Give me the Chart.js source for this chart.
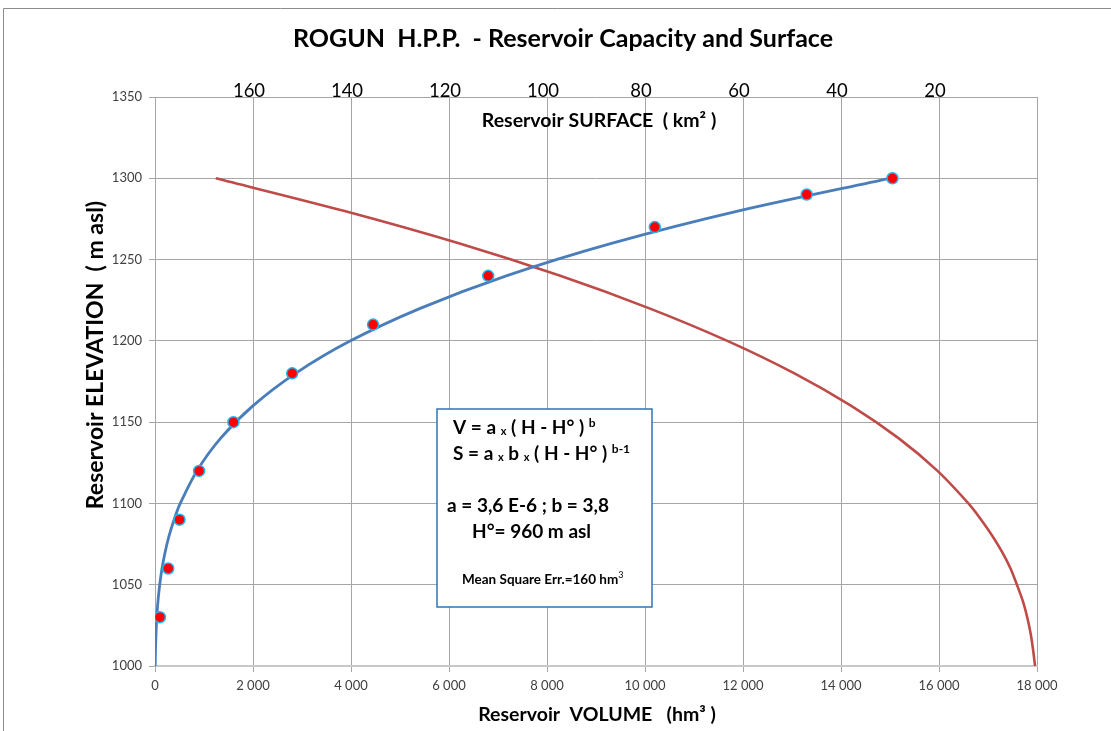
<!DOCTYPE html>
<html>
<head>
<meta charset="utf-8">
<title>ROGUN H.P.P. - Reservoir Capacity and Surface</title>
<script src="https://cdn.jsdelivr.net/npm/chart.js@4.4.1/dist/chart.umd.min.js"></script>
<style>
  html, body { margin: 0; padding: 0; background: #fff; }
  #wrap { width: 1111px; height: 731px; position: relative; }
</style>
</head>
<body>
<div id="wrap"><canvas id="rogunChart" width="1111" height="731"></canvas></div>
<script>
// elevations along the fitted curves (m asl)
const fitElevation = [1000, 1010, 1020, 1030, 1040, 1050, 1060, 1070, 1080, 1090, 1100, 1120, 1140, 1160, 1180, 1200, 1220, 1240, 1260, 1280, 1300];
// fitted reservoir volume (hm3)
const fitVolume = [4, 10, 21, 37, 61, 96, 143, 206, 287, 389, 515, 855, 1337, 1997, 2868, 3989, 5412, 7168, 9315, 11913, 14994];
// fitted reservoir surface (km2) (top axis)
const fitSurface = [0.4, 0.8, 1.3, 2.0, 2.9, 4.1, 5.4, 7.1, 9.1, 11.4, 14.0, 20.3, 28.2, 37.9, 49.5, 63.2, 79.1, 97.3, 118.0, 141.5, 167.6];

// measured points
const measuredVolume = [100, 270, 500, 900, 1600, 2800, 4450, 6800, 10200, 13300, 15050];
const measuredElevation = [1030, 1060, 1090, 1120, 1150, 1180, 1210, 1240, 1270, 1290, 1300];

// tick labels
const volumeTicks = [0, 2000, 4000, 6000, 8000, 10000, 12000, 14000, 16000, 18000];
const surfaceTicks = [20, 40, 60, 80, 100, 120, 140, 160];
const elevationTicks = [1000, 1050, 1100, 1150, 1200, 1250, 1300, 1350];

const FONT = "Lato, 'Open Sans', sans-serif";
const GRID = '#a6a6a6';

function fmtThousands(v) {
    return String(v).replace(/\B(?=(\d{3})+(?!\d))/g, ' ');
}

// draws a line made of pieces with different size / vertical shift
function drawRich(ctx, parts, x, y) {
    let cx = x;
    parts.forEach(p => {
        ctx.font = (p.bold === false ? '' : 'bold ') + p.size + 'px ' + FONT;
        ctx.fillText(p.t, cx, y + (p.dy || 0));
        cx += ctx.measureText(p.t).width;
    });
}

const decorations = {
    id: 'decorations',
    afterDatasetsDraw(chart) {
        const ctx = chart.ctx;
        ctx.save();

        // frame of the picture
        ctx.strokeStyle = '#8c8c8c';
        ctx.lineWidth = 1;
        ctx.beginPath();
        ctx.moveTo(3.5, 731);
        ctx.lineTo(3.5, 8.5);
        ctx.lineTo(1111, 8.5);
        ctx.stroke();

        ctx.fillStyle = '#000';
        ctx.textAlign = 'center';
        ctx.textBaseline = 'alphabetic';

        // main title
        ctx.font = 'bold 25px ' + FONT;
        ctx.fillText('ROGUN  H.P.P.  - Reservoir Capacity and Surface', 563, 47);

        // axis titles
        ctx.font = 'bold 19.5px ' + FONT;
        ctx.fillText('Reservoir  VOLUME   (hm\u00b3 )', 597, 721);
        ctx.fillText('Reservoir SURFACE  ( km\u00b2 )', 599, 127);

        ctx.save();
        ctx.translate(103, 355);
        ctx.rotate(-Math.PI / 2);
        ctx.font = 'bold 23px ' + FONT;
        ctx.fillText('Reservoir ELEVATION  ( m asl)', 0, 0);
        ctx.restore();

        // formula box
        ctx.fillStyle = '#fff';
        ctx.fillRect(437, 409, 215, 198);
        ctx.strokeStyle = '#2e75b6';
        ctx.lineWidth = 1.5;
        ctx.strokeRect(437, 409, 215, 198);

        ctx.fillStyle = '#000';
        ctx.textAlign = 'left';
        drawRich(ctx, [
            { t: 'V = a ', size: 19 },
            { t: 'x', size: 11, dy: 1 },
            { t: ' ( H - H\u00b0 ) ', size: 19 },
            { t: 'b', size: 12, dy: -7 }
        ], 453, 434);
        drawRich(ctx, [
            { t: 'S = a ', size: 19 },
            { t: 'x', size: 11, dy: 1 },
            { t: ' b ', size: 19 },
            { t: 'x', size: 11, dy: 1 },
            { t: ' ( H - H\u00b0 ) ', size: 19 },
            { t: 'b-1', size: 12, dy: -7 }
        ], 453, 460);
        drawRich(ctx, [{ t: 'a = 3,6 E-6 ; b = 3,8', size: 19 }], 447, 512);
        drawRich(ctx, [{ t: 'H\u00b0= 960 m asl', size: 19 }], 472, 538);
        drawRich(ctx, [
            { t: 'Mean Square Err.=160 hm', size: 13.5 },
            { t: '3', size: 9, dy: -6, bold: false }
        ], 462, 584);

        ctx.restore();
    }
};

const canvas = document.getElementById('rogunChart');

new Chart(canvas, {
    type: 'scatter',
    data: {
        datasets: [
            {
                label: 'Volume (fit)',
                data: fitElevation.map((h, i) => ({ x: fitVolume[i], y: h })),
                xAxisID: 'x',
                yAxisID: 'y',
                showLine: true,
                borderColor: '#4a7ebb',
                borderWidth: 2.8,
                pointRadius: 0,
                tension: 0.3,
                order: 2
            },
            {
                label: 'Surface (fit)',
                data: fitElevation.map((h, i) => ({ x: fitSurface[i], y: h })),
                xAxisID: 'x2',
                yAxisID: 'y',
                showLine: true,
                borderColor: '#be4b48',
                borderWidth: 2.6,
                pointRadius: 0,
                tension: 0.3,
                order: 3
            },
            {
                label: 'Measured',
                data: measuredVolume.map((v, i) => ({ x: v, y: measuredElevation[i] })),
                xAxisID: 'x',
                yAxisID: 'y',
                showLine: false,
                pointRadius: 5.5,
                pointBackgroundColor: '#ff0000',
                pointBorderColor: '#1fb5f0',
                pointBorderWidth: 1.5,
                order: 1
            }
        ]
    },
    options: {
        responsive: false,
        maintainAspectRatio: false,
        animation: false,
        devicePixelRatio: 1,
        layout: { padding: { top: 0, left: 0, right: 74, bottom: 0 } },
        plugins: {
            legend: { display: false },
            title: { display: false },
            tooltip: { enabled: false }
        },
        scales: {
            x: {
                type: 'linear',
                position: 'bottom',
                min: 0,
                max: 18000,
                afterBuildTicks: s => { s.ticks = volumeTicks.map(v => ({ value: v })); },
                afterFit: s => { s.height = 65; },
                ticks: {
                    color: '#404040',
                    font: { family: FONT, size: 13 },
                    padding: 6,
                    maxRotation: 0,
                    callback: v => fmtThousands(v)
                },
                grid: { color: GRID, tickLength: 6 },
                border: { color: '#c8c8c8', width: 2 }
            },
            x2: {
                type: 'linear',
                position: 'top',
                min: 0,
                max: 180,
                reverse: true,
                afterBuildTicks: s => { s.ticks = surfaceTicks.map(v => ({ value: v })); },
                afterFit: s => { s.height = 97; },
                ticks: {
                    color: '#000',
                    font: { family: FONT, size: 18.5 },
                    padding: -5,
                    labelOffset: -4,
                    maxRotation: 0
                },
                grid: { drawOnChartArea: false, drawTicks: false },
                border: { display: false }
            },
            y: {
                type: 'linear',
                min: 1000,
                max: 1350,
                afterBuildTicks: s => { s.ticks = elevationTicks.map(v => ({ value: v })); },
                afterFit: s => { s.width = 155; },
                ticks: {
                    color: '#404040',
                    font: { family: FONT, size: 13 },
                    padding: 7,
                    callback: v => String(v)
                },
                grid: { color: GRID, tickLength: 6 },
                border: { color: GRID }
            }
        }
    },
    plugins: [decorations]
});
</script>
</body>
</html>
